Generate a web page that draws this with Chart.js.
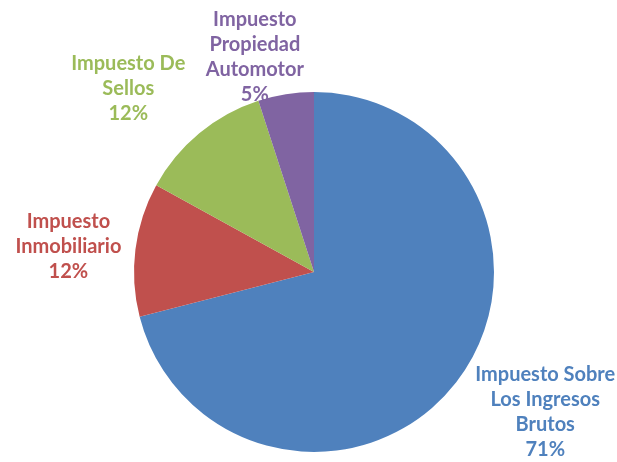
<!DOCTYPE html>
<html>
<head>
<meta charset="utf-8">
<script src="https://cdn.jsdelivr.net/npm/chart.js@4.4.0/dist/chart.umd.min.js"></script>
<style>
  html, body { margin: 0; padding: 0; background: #fff; }
  #wrap { width: 617px; height: 462px; position: relative; }
</style>
</head>
<body>
<div id="wrap"><canvas id="pieChart"></canvas></div>
<script>
// data
const categorias = [
  ["Impuesto Sobre", "Los Ingresos", "Brutos"],
  ["Impuesto", "Inmobiliario"],
  ["Impuesto De", "Sellos"],
  ["Impuesto", "Propiedad", "Automotor"]
];
const valores = [71, 12, 12, 5];
const colores = ["#4F81BD", "#C0504D", "#9BBB59", "#8064A2"];

// where each label sits relative to the slice's outer edge at its mid angle
const labelOffsets = [[89, 30], [-67, -3], [-71, -45], [-31, -37]];

const total = valores.reduce((a, b) => a + b, 0);

const outsideLabels = {
  id: "outsideLabels",
  afterDatasetsDraw(chart) {
    const ctx = chart.ctx;
    const meta = chart.getDatasetMeta(0);
    ctx.save();
    ctx.font = "bold 20px Lato, 'Open Sans', sans-serif";
    ctx.textAlign = "center";
    ctx.textBaseline = "middle";
    const lh = 25;
    meta.data.forEach((arc, i) => {
      const mid = (arc.startAngle + arc.endAngle) / 2;
      const x = arc.x + Math.cos(mid) * arc.outerRadius + labelOffsets[i][0];
      const y = arc.y + Math.sin(mid) * arc.outerRadius + labelOffsets[i][1];
      const lines = categorias[i].concat([Math.round(valores[i] / total * 100) + "%"]);
      const top = y - (lines.length - 1) * lh / 2;
      ctx.fillStyle = colores[i];
      lines.forEach((t, k) => ctx.fillText(t, x, top + k * lh));
    });
    ctx.restore();
  }
};

const data = {
  labels: categorias.map(c => c.join(" ")),
  datasets: [{
    data: valores,
    backgroundColor: colores,
    borderWidth: 0
  }]
};

new Chart(document.getElementById("pieChart"), {
  type: "pie",
  data,
  options: {
    responsive: true,
    maintainAspectRatio: false,
    animation: false,
    layout: { padding: { top: 92, bottom: 10, left: 11, right: 0 } },
    plugins: {
      legend: { display: false },
      tooltip: { enabled: false }
    }
  },
  plugins: [outsideLabels]
});
</script>
</body>
</html>
